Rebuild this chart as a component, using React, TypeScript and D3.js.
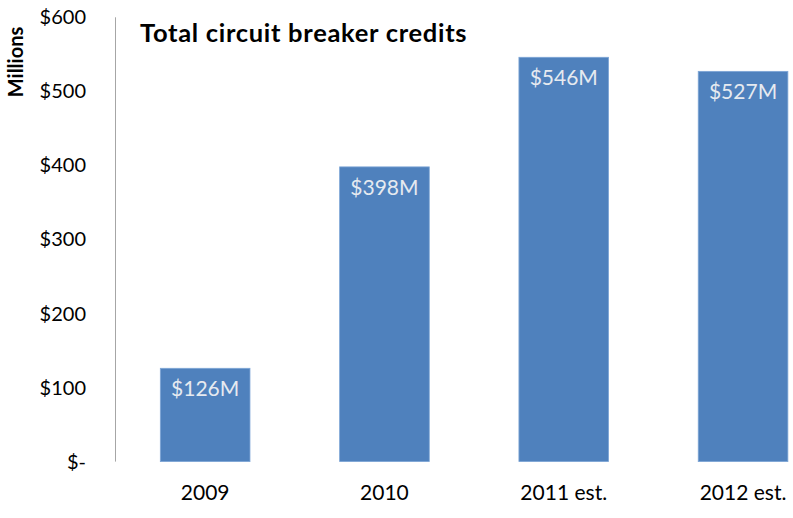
import React from "react";
import * as d3 from "d3";

const categories = ["2009", "2010", "2011 est.", "2012 est."];
const values = [126, 398, 546, 527];
const barLabels = ["$126M", "$398M", "$546M", "$527M"];
const yTicks = [0, 100, 200, 300, 400, 500, 600];
const yTickLabels = ["$-", "$100", "$200", "$300", "$400", "$500", "$600"];
const title = "Total circuit breaker credits";
const yTitle = "Millions";

const W = 793;
const H = 518;
const FONT = "Lato, 'Open Sans', sans-serif";

export default function App() {
  const y = d3.scaleLinear().domain([0, 600]).range([461.6, 17.3]);
  const x = d3.scaleBand<string>().domain(categories).range([115.5, 832.7]).paddingInner(0.5).paddingOuter(0.25);
  return (
    <svg width={W} height={H} style={{ position: "absolute", left: 0, top: 0 }} fontFamily={FONT}>
      <rect x={0} y={0} width={W} height={H} fill="#fff" />
      <line x1={115.5} x2={115.5} y1={y(600)} y2={y(0)} stroke="#a6a6a6" strokeWidth={1} />
      {yTicks.map((t, i) => (
        <text key={t} x={86} y={y(t)} dy="0.35em" textAnchor="end" fontSize={20} fill="#000">
          {yTickLabels[i]}
        </text>
      ))}
      <text transform={`translate(23,62) rotate(-90)`} textAnchor="middle" fontSize={20} fontWeight="bold" fill="#000">
        {yTitle}
      </text>
      <text x={140} y={42} fontSize={25.5} fontWeight="bold" fill="#000" letterSpacing={0.7}>
        {title}
      </text>
      {categories.map((c, i) => {
        const bx = x(c)!;
        const bw = x.bandwidth();
        return (
          <g key={c}>
            <rect x={bx} y={y(values[i])} width={bw} height={y(0) - y(values[i])} fill="#4f81bd" stroke="#7ea6d6" strokeWidth={0.8} />
            <text x={bx + bw / 2} y={y(values[i]) + 28} textAnchor="middle" fontSize={21} fill="#e6eaf0">
              {barLabels[i]}
            </text>
            <text x={bx + bw / 2} y={500} textAnchor="middle" fontSize={21} fill="#000">
              {c}
            </text>
          </g>
        );
      })}
    </svg>
  );
}
